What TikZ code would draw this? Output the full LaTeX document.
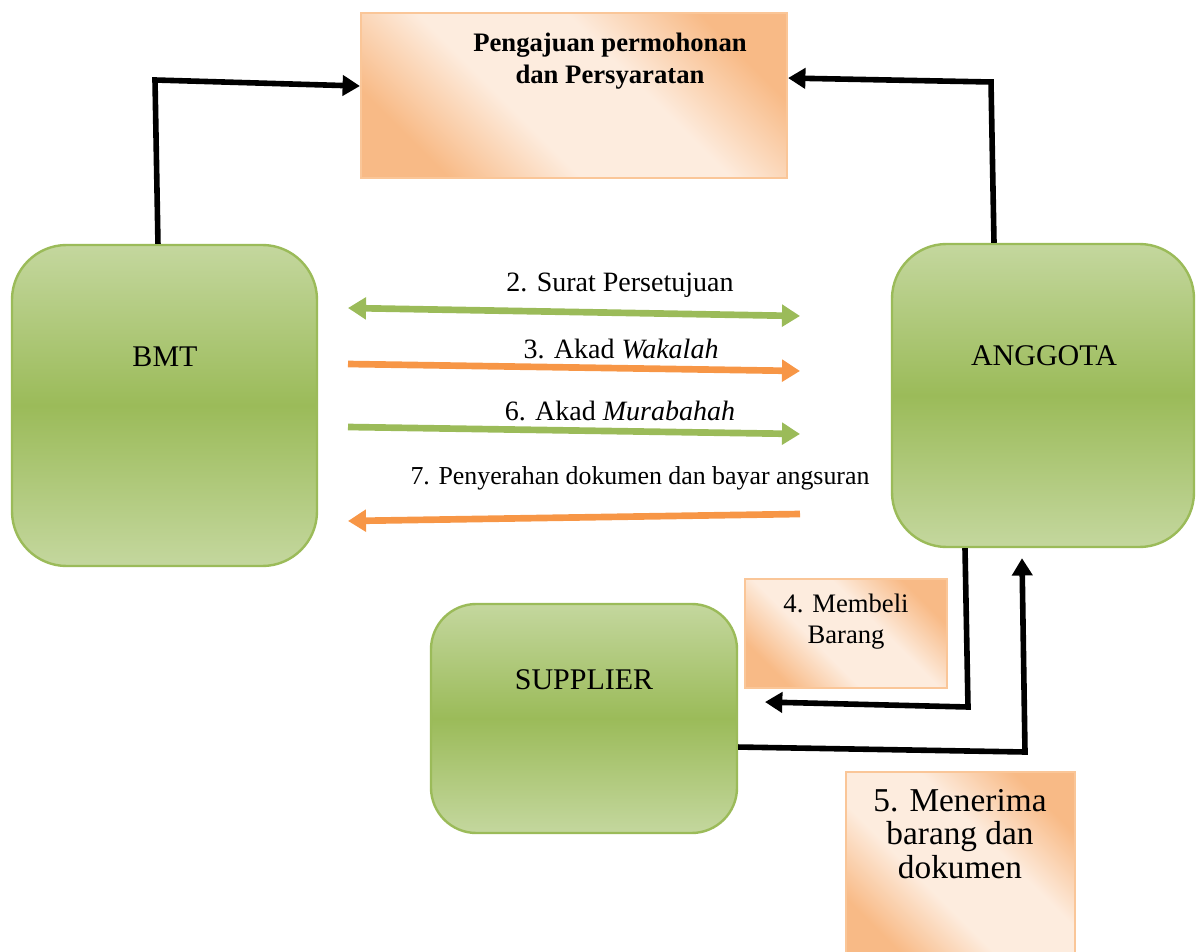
\documentclass[tikz,border=0pt]{standalone}
\usepackage{fontspec}
\setmainfont{Liberation Serif}
\usetikzlibrary{arrows.meta,calc}
\definecolor{gD}{RGB}{155,187,89}
\definecolor{gL}{RGB}{196,215,158}
\definecolor{oD}{RGB}{248,186,134}
\definecolor{oL}{RGB}{253,236,222}
\definecolor{oB}{RGB}{250,198,152}
\definecolor{arrG}{RGB}{155,187,89}
\definecolor{arrO}{RGB}{247,150,70}
\pgfdeclarehorizontalshading{oshade}{100bp}{color(0bp)=(oD); color(25bp)=(oD); color(41bp)=(oL); color(59bp)=(oL); color(75bp)=(oD); color(100bp)=(oD)}
\begin{document}
\begin{tikzpicture}[x=0.75pt,y=-0.75pt,
  gbox/.style={draw=gD, line width=1.8pt, top color=gL, bottom color=gL, middle color=gD, inner sep=0pt},
  obox/.style={draw=oB, line width=1.6pt, shading=oshade, shading angle=45, inner sep=0pt},
  blk/.style={line width=4.2pt, -{Triangle[length=13pt,width=15pt]}},
  carrow/.style={line width=5pt},
  tipR/.style={-{Triangle[length=13.5pt,width=16pt]}},
  tipL/.style={{Triangle[length=13.5pt,width=16pt]}-},
  tipLR/.style={{Triangle[length=13.5pt,width=16pt]}-{Triangle[length=13.5pt,width=16pt]}},
  lbl/.style={font=\fontsize{21}{25}\selectfont, inner sep=0pt},
  boxtxt/.style={font=\fontsize{22.5}{27}\selectfont, inner sep=0pt}
]
\useasboundingbox (0,0) rectangle (1196,952);

% boxes
\node[obox, minimum width=319.5pt, minimum height=123.75pt] (top) at (574,95.5) {};
\node[font=\bfseries\fontsize{20}{24}\selectfont, align=center, inner sep=0pt] (toptxt) at (610,61) {Pengajuan permohonan\\dan Persyaratan};

\node[gbox, rounded corners=41pt, minimum width=228.75pt, minimum height=240.75pt] (bmt) at (164.5,405.5) {};
\node[boxtxt] (bmttxt) at (165,357) {BMT};

\node[gbox, rounded corners=41pt, minimum width=226.5pt, minimum height=227.25pt] (ang) at (1043,395.5) {};
\node[boxtxt] (angtxt) at (1044,356) {ANGGOTA};

\node[gbox, rounded corners=34pt, minimum width=229.5pt, minimum height=171.75pt] (sup) at (584,718.5) {};
\node[boxtxt] (suptxt) at (584,680) {SUPPLIER};

\node[obox, minimum width=151.5pt, minimum height=81.75pt] (b4) at (846,633.5) {};
\node[font=\fontsize{20}{23.5}\selectfont, align=center, inner sep=0pt] (b4txt) at (846,621.5) {4. Membeli\\Barang};

\node[obox, minimum width=171.75pt, minimum height=141pt] (b5) at (960.5,866) {};
\node[font=\fontsize{25}{25}\selectfont, align=center, inner sep=0pt] (b5txt) at (960,834) {5. Menerima\\barang dan\\dokumen};

% black connectors
\coordinate (c1) at (155,80);
\draw[blk] ([xshift=-4.9pt]bmt.north) -- (c1) -- ([yshift=7.1pt]top.west);
\coordinate (c2) at (991,82);
\draw[blk] ([xshift=-36.75pt]ang.north) -- (c2) -- ([yshift=13.1pt]top.east);
\coordinate (c3) at (968,707);
\coordinate (s4) at (765,702);
\draw[blk] ([xshift=-58.5pt]ang.south) -- (c3) -- (s4);
\coordinate (c4) at (1025,752);
\draw[blk] ([yshift=-21.4pt]sup.east) -- (c4) -- ([xshift=-15.75pt,yshift=-7.5pt]ang.south);

% coloured connectors
\coordinate (a2) at (348,308); \coordinate (e2) at (800,316);
\coordinate (a3) at (348,364); \coordinate (e3) at (800,371);
\coordinate (a6) at (348,427); \coordinate (e6) at (800,434);
\coordinate (a7) at (348,521); \coordinate (e7) at (800,514);
\draw[carrow, arrG, tipLR] (a2) -- (e2);
\draw[carrow, arrO, tipR] (a3) -- (e3);
\draw[carrow, arrG, tipR] (a6) -- (e6);
\draw[carrow, arrO, tipR] (e7) -- (a7);

\node[lbl] (l2) at (620,285) {2. Surat Persetujuan};
\node[lbl] (l3) at (621,349) {3. Akad \textit{Wakalah}};
\node[lbl] (l6) at (620,411) {6. Akad \textit{Murabahah}};
\node[lbl, font=\fontsize{19.4}{23}\selectfont] (l7) at (640,478) {7. Penyerahan dokumen dan bayar angsuran};
\end{tikzpicture}
\end{document}
